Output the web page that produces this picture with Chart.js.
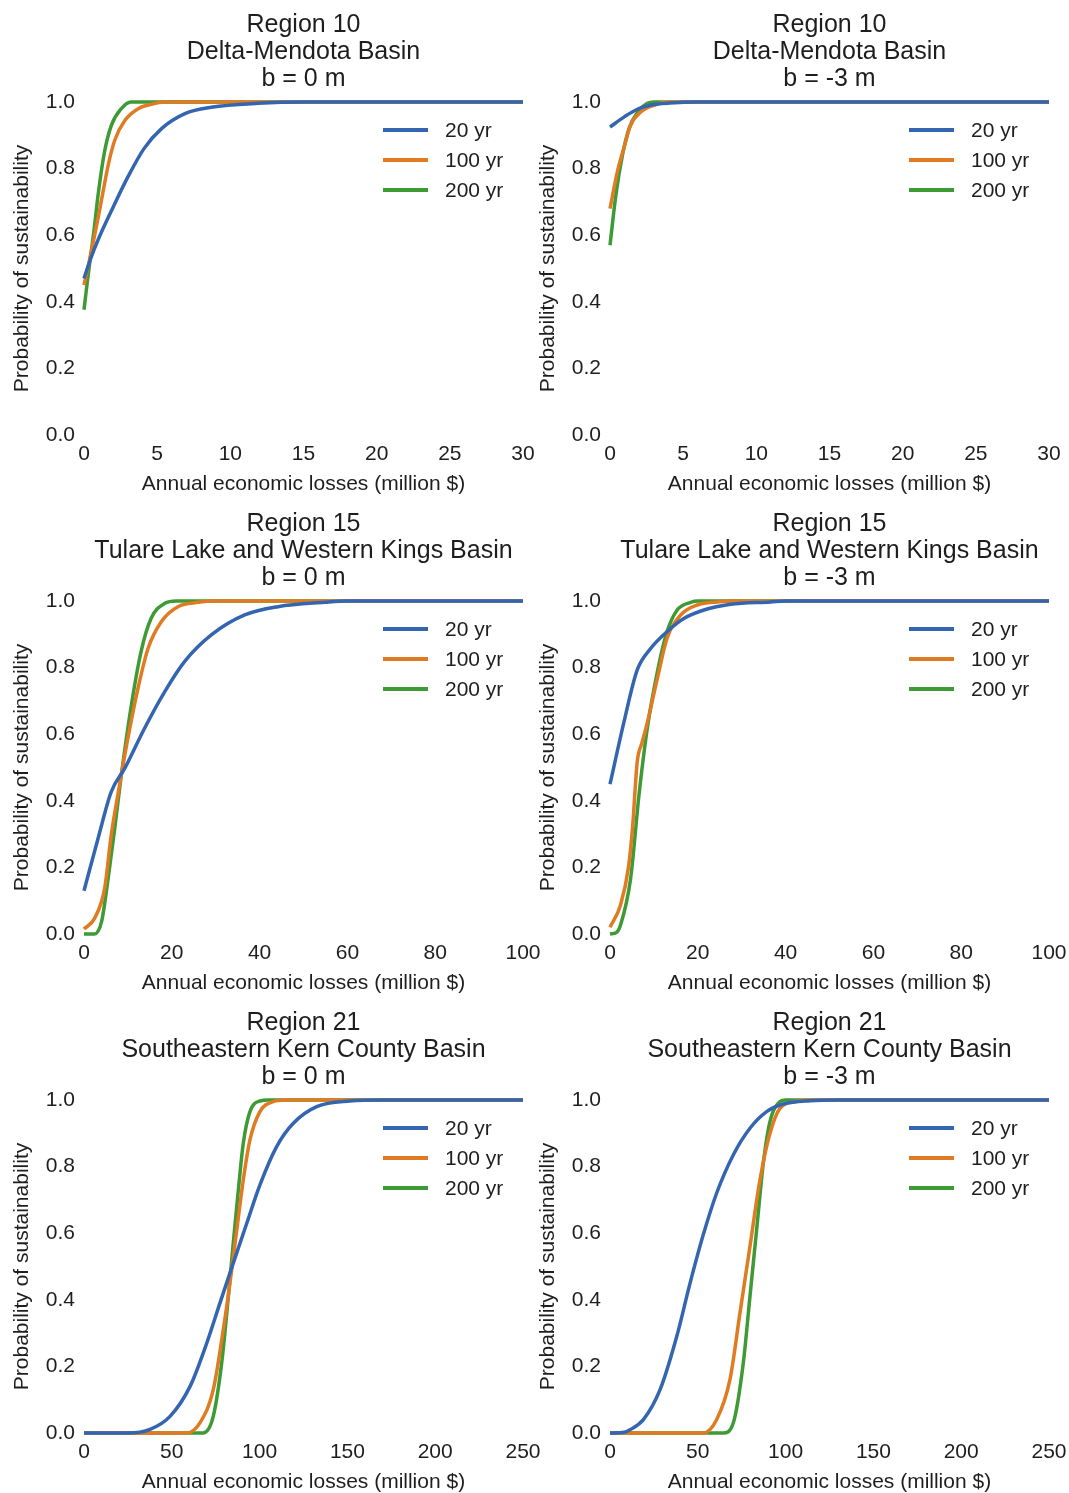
<!DOCTYPE html>
<html>
<head>
<meta charset="utf-8">
<script src="https://cdn.jsdelivr.net/npm/chart.js@4"></script>
<style>
  html, body { margin: 0; padding: 0; background: #fff; overflow: hidden; }
  #wrap { position: relative; width: 1069px; height: 1493px; overflow: hidden; }
  canvas { position: absolute; }
</style>
</head>
<body>
<div id="wrap"></div>
<script>
// [loss (million $), probability]
const seriesLabels = ["20 yr", "100 yr", "200 yr"];
const seriesColors = ["#3465b1", "#e07b22", "#3e9a35"];

const r10b0_20 = [[0,0.47],[0.5,0.535],[1,0.59],[2,0.685],[3,0.775],[4.1,0.86],[5.3,0.92],[6.9,0.965],[8.7,0.984],[11.9,0.996],[15,1],[30,1]];
const r10b0_100 = [[0,0.45],[0.35,0.52],[0.73,0.6],[1.0,0.66],[1.3,0.73],[1.65,0.81],[2.1,0.885],[2.8,0.945],[3.7,0.98],[4.6,0.993],[5.5,1],[30,1]];
const r10b0_200 = [[0,0.376],[0.2,0.45],[0.4,0.52],[0.7,0.62],[0.96,0.72],[1.4,0.85],[1.87,0.93],[2.55,0.98],[3.2,1],[30,1]];

const r10b3_20 = [[0,0.925],[1,0.956],[1.9,0.979],[2.8,0.991],[4.1,0.997],[6,1],[30,1]];
const r10b3_100 = [[0,0.68],[0.5,0.79],[1,0.87],[1.4,0.93],[2.1,0.97],[3,0.99],[4.1,1],[30,1]];
const r10b3_200 = [[0,0.57],[0.4,0.72],[0.85,0.84],[1.3,0.92],[1.9,0.97],[2.55,0.996],[3,1],[30,1]];

const r15b0_20 = [[0,0.13],[3.2,0.287],[6.2,0.427],[9.3,0.498],[13.8,0.618],[18.4,0.728],[22.9,0.818],[29,0.898],[36.6,0.958],[44.2,0.983],[54.8,0.996],[60,1],[100,1]];
const r15b0_100 = [[0,0.015],[2.4,0.047],[4.7,0.137],[6.2,0.297],[7.7,0.417],[10,0.588],[12.3,0.738],[14.6,0.858],[17.6,0.938],[21.4,0.983],[26,0.996],[30,1],[100,1]];
const r15b0_200 = [[0,0],[2.4,0],[4,0.037],[5.5,0.167],[7,0.317],[8.5,0.477],[10.8,0.688],[13,0.848],[15.3,0.948],[18.4,0.993],[21,1],[100,1]];

const r15b3_20 = [[0,0.45],[3.2,0.638],[6.2,0.793],[9.3,0.858],[13,0.908],[16.9,0.948],[21.4,0.973],[27.5,0.99],[36.6,0.997],[40,1],[100,1]];
const r15b3_100 = [[0,0.02],[2.4,0.087],[4.2,0.2],[5.2,0.33],[5.7,0.43],[6.2,0.517],[7.3,0.575],[8.5,0.635],[10.8,0.768],[13,0.888],[16.1,0.958],[19.9,0.988],[24.4,0.997],[30,1],[100,1]];
const r15b3_200 = [[0,0],[1.5,0.005],[2.4,0.027],[4.7,0.167],[6.6,0.417],[8.5,0.618],[10.8,0.788],[13,0.908],[15.3,0.973],[18.4,0.996],[20,1],[100,1]];

const r21b0_20 = [[0,0],[25,0],[37.6,0.011],[49,0.05],[60.4,0.14],[69.9,0.27],[77.4,0.39],[85,0.51],[92.7,0.63],[100.2,0.745],[109.7,0.86],[119.2,0.93],[132.5,0.98],[151.5,0.997],[170,1],[250,1]];
const r21b0_100 = [[0,0],[58.5,0],[66.1,0.031],[73.6,0.13],[79.3,0.31],[83.1,0.45],[87,0.61],[90.7,0.76],[94.5,0.88],[100.2,0.965],[107.8,0.995],[115,1],[250,1]];
const r21b0_200 = [[0,0],[67.9,0],[73.6,0.05],[78.4,0.21],[82.2,0.41],[85,0.57],[87.9,0.73],[90.7,0.87],[94.5,0.965],[100.2,0.997],[105,1],[250,1]];

const r21b3_20 = [[0,0],[8,0.002],[11.4,0.01],[19,0.04],[28.5,0.13],[38,0.29],[45.6,0.45],[53.1,0.595],[60.7,0.72],[70.2,0.835],[79.7,0.915],[89.2,0.965],[98.7,0.988],[113.9,0.998],[130,1],[250,1]];
const r21b3_100 = [[0,0],[53.1,0],[60.7,0.04],[68.3,0.16],[74,0.36],[79.7,0.56],[85.4,0.76],[91.1,0.9],[96.8,0.975],[106.3,0.996],[115,1],[250,1]];
const r21b3_200 = [[0,0],[64.5,0],[70.2,0.03],[75.9,0.21],[79.7,0.41],[83.5,0.61],[87.3,0.81],[91.1,0.935],[96.8,0.995],[100,1],[250,1]];

const yTicks = [0, 0.2, 0.4, 0.6, 0.8, 1.0];
const xMax = [30, 100, 250];
const xStep = [5, 20, 50];

const panels = [
  { title: ["Region 10", "Delta-Mendota Basin", "b = 0 m"], row: 0, col: 0, series: [r10b0_20, r10b0_100, r10b0_200] },
  { title: ["Region 10", "Delta-Mendota Basin", "b = -3 m"], row: 0, col: 1, series: [r10b3_20, r10b3_100, r10b3_200] },
  { title: ["Region 15", "Tulare Lake and Western Kings Basin", "b = 0 m"], row: 1, col: 0, series: [r15b0_20, r15b0_100, r15b0_200] },
  { title: ["Region 15", "Tulare Lake and Western Kings Basin", "b = -3 m"], row: 1, col: 1, series: [r15b3_20, r15b3_100, r15b3_200] },
  { title: ["Region 21", "Southeastern Kern County Basin", "b = 0 m"], row: 2, col: 0, series: [r21b0_20, r21b0_100, r21b0_200] },
  { title: ["Region 21", "Southeastern Kern County Basin", "b = -3 m"], row: 2, col: 1, series: [r21b3_20, r21b3_100, r21b3_200] }
];

Chart.defaults.font.family = '"Liberation Sans", Arial, sans-serif';
Chart.defaults.font.size = 21;
Chart.defaults.color = "#1e1e1e";

// legend drawn inside the plot, top right
const insideLegend = {
  id: "insideLegend",
  afterDatasetsDraw(chart) {
    const { ctx, chartArea } = chart;
    chart.data.datasets.forEach((ds, i) => {
      const y = chartArea.top + 28 + i * 30;
      const x = chartArea.right - 140;
      ctx.save();
      ctx.strokeStyle = ds.borderColor;
      ctx.lineWidth = 4;
      ctx.beginPath();
      ctx.moveTo(x, y);
      ctx.lineTo(x + 45, y);
      ctx.stroke();
      ctx.fillStyle = "#1e1e1e";
      ctx.font = '21px "Liberation Sans", Arial, sans-serif';
      ctx.textBaseline = "middle";
      ctx.fillText(ds.label, x + 62, y + 1);
      ctx.restore();
    });
  }
};

const wrap = document.getElementById("wrap");
const H = 499;
const W = 560;

panels.forEach(p => {
  const canvas = document.createElement("canvas");
  canvas.width = W;
  canvas.height = H;
  canvas.style.left = (p.col === 0 ? 0 : 526) + "px";
  canvas.style.top = (p.row * 499) + "px";
  wrap.appendChild(canvas);

  new Chart(canvas, {
    type: "line",
    data: {
      datasets: p.series.map((s, i) => ({
        label: seriesLabels[i],
        data: s.map(pt => ({ x: pt[0], y: pt[1] })),
        borderColor: seriesColors[i],
        borderWidth: 3.5,
        pointRadius: 0,
        cubicInterpolationMode: "monotone",
        clip: false
      }))
    },
    options: {
      responsive: false,
      animation: false,
      events: [],
      layout: { padding: { left: 0, right: W - 523, top: 0, bottom: 0 } },
      plugins: {
        legend: { display: false },
        tooltip: { enabled: false },
        title: {
          display: true,
          text: p.title,
          fullSize: false,
          color: "#1e1e1e",
          font: { size: 25, lineHeight: "27px", weight: "normal" },
          padding: { top: 11.5, bottom: 9.5 }
        }
      },
      scales: {
        x: {
          type: "linear",
          min: 0,
          max: xMax[p.row],
          grid: { display: false, drawTicks: false },
          border: { display: false },
          ticks: { stepSize: xStep[p.row], padding: 7 },
          title: { display: true, text: "Annual economic losses (million $)", padding: { top: 0, bottom: 2 } },
          afterFit: scale => { scale.height = H - 435; }
        },
        y: {
          min: 0,
          max: 1,
          grid: { display: false, drawTicks: false },
          border: { display: false },
          afterBuildTicks: scale => { scale.ticks = yTicks.map(v => ({ value: v })); },
          ticks: { padding: 9, callback: v => v.toFixed(1) },
          title: { display: true, text: "Probability of sustainability", padding: { top: 9.5, bottom: 0 } },
          afterFit: scale => { scale.width = 84; }
        }
      }
    },
    plugins: [insideLegend]
  });
});
</script>
</body>
</html>
